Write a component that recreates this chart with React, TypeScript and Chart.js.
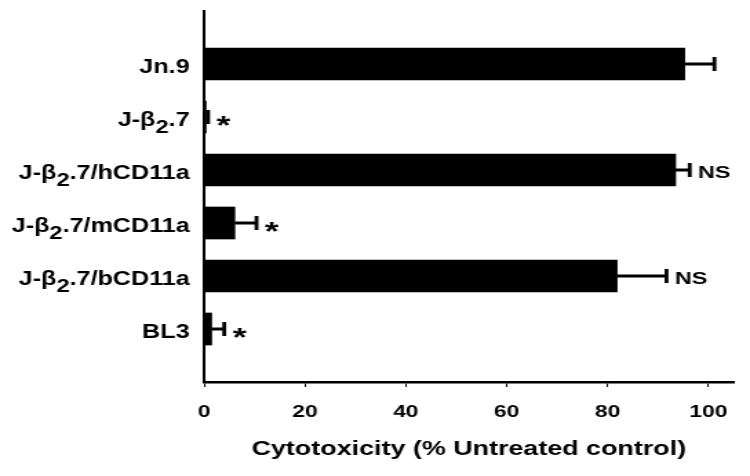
import React, { useEffect, useRef } from 'react';
import { Chart, registerables } from 'chart.js';

Chart.register(...registerables);

// ---- data ----
const CATEGORIES = ['Jn.9', 'J-β₂.7', 'J-β₂.7/hCD11a', 'J-β₂.7/mCD11a', 'J-β₂.7/bCD11a', 'BL3'];
const CYTOTOXICITY = [95.3, 0.4, 93.5, 6.1, 81.9, 1.5];
const ERRORS = [5.9, 0.4, 2.8, 4.3, 9.8, 2.5];
const SIGNIFICANCE = ['', '*', 'NS', '*', 'NS', '*'];
const X_TICKS = [0, 20, 40, 60, 80, 100];
const X_TITLE = 'Cytotoxicity (% Untreated control)';

// ---- layout / style ----
const CANVAS_W = 544;
const CANVAS_H = 476;
const DISPLAY_W = 750;
const FONT = '"Liberation Sans", Arial, Helvetica, sans-serif';

const PADDED_LABELS = ['', ...CATEGORIES, ''];
const PADDED_VALUES = [null, ...CYTOTOXICITY, null];

const annotationsPlugin = {
  id: 'errorBarsAndLabels',
  afterDatasetsDraw(chart: any) {
    const { ctx, scales, chartArea } = chart;
    const xs = scales.x;
    const ys = scales.y;
    ctx.save();
    ctx.strokeStyle = '#000';
    ctx.fillStyle = '#000';
    CYTOTOXICITY.forEach((v, i) => {
      const e = ERRORS[i];
      const cy = ys.getPixelForValue(i + 1);
      const x0 = xs.getPixelForValue(v);
      const x1 = xs.getPixelForValue(v + e);
      if (e > 0) {
        ctx.lineWidth = 3;
        ctx.beginPath();
        ctx.moveTo(x0, cy);
        ctx.lineTo(x1, cy);
        ctx.stroke();
        ctx.lineWidth = 2.8;
        ctx.beginPath();
        ctx.moveTo(x1, cy - 7);
        ctx.lineTo(x1, cy + 7);
        ctx.stroke();
      }
      const mark = SIGNIFICANCE[i];
      ctx.textAlign = 'left';
      ctx.textBaseline = 'alphabetic';
      if (mark === '*') {
        ctx.font = `bold 26px ${FONT}`;
        ctx.fillText(mark, x1 + 6, cy + 17);
      } else if (mark) {
        ctx.font = `bold 17px ${FONT}`;
        ctx.fillText(mark, x1 + 6, cy + 8);
      }
    });

    // category labels with subscript (slightly condensed)
    const right = chartArea.left - 10.5;
    const k = 0.91;
    const mainFont = `bold 20px ${FONT}`;
    const subFont = `bold 19px ${FONT}`;
    ctx.textAlign = 'left';
    ctx.textBaseline = 'alphabetic';
    CATEGORIES.forEach((label, i) => {
      const cy = ys.getPixelForValue(i + 1);
      const base = cy + 9;
      const parts = label.split('₂');
      const segs: { t: string; sub: boolean }[] = [];
      parts.forEach((p, idx) => {
        if (idx > 0) segs.push({ t: '2', sub: true });
        if (p) segs.push({ t: p, sub: false });
      });
      let total = 0;
      segs.forEach((s) => {
        ctx.font = s.sub ? subFont : mainFont;
        total += ctx.measureText(s.t).width;
      });
      ctx.save();
      ctx.translate(right, base);
      ctx.scale(k, 1);
      let xpos = -total;
      segs.forEach((s) => {
        ctx.font = s.sub ? subFont : mainFont;
        ctx.fillText(s.t, xpos, s.sub ? 6.5 : 0);
        xpos += ctx.measureText(s.t).width;
      });
      ctx.restore();
    });
    ctx.restore();
  },
};

export default function App() {
  const canvasRef = useRef<HTMLCanvasElement | null>(null);

  useEffect(() => {
    document.body.style.margin = '0';
    const canvas = canvasRef.current;
    if (!canvas) return;
    const chart = new Chart(canvas, {
      type: 'bar',
      data: {
        labels: PADDED_LABELS,
        datasets: [
          {
            data: PADDED_VALUES as any,
            backgroundColor: '#000',
            borderWidth: 0,
            barThickness: 32,
          },
        ],
      },
      options: {
        indexAxis: 'y',
        responsive: false,
        animation: false,
        devicePixelRatio: 1,
        layout: { padding: { top: 11, right: 9, left: 0, bottom: 0 } },
        plugins: {
          legend: { display: false },
          tooltip: { enabled: false },
        },
        scales: {
          y: {
            type: 'category',
            offset: false,
            grid: { display: false },
            border: { display: true, color: '#000', width: 2 },
            ticks: { display: false },
            afterFit: (s: any) => {
              s.width = 148;
            },
          },
          x: {
            type: 'linear',
            position: 'bottom',
            min: 0,
            max: 105,
            grid: {
              display: true,
              drawOnChartArea: false,
              drawTicks: true,
              tickLength: 5,
              color: '#000',
              lineWidth: 1,
            },
            border: { display: true, color: '#000', width: 2.5 },
            ticks: {
              stepSize: 20,
              includeBounds: false,
              color: '#000',
              padding: 16,
              font: { family: FONT, size: 16.5, weight: 'bold' },
            },
            afterBuildTicks: (s: any) => {
              s.ticks = X_TICKS.map((v) => ({ value: v }));
            },
            title: {
              display: true,
              text: X_TITLE,
              color: '#000',
              font: { family: FONT, size: 19.5, weight: 'bold' },
              padding: { top: 0, bottom: 14.3 },
            },
            afterFit: (s: any) => {
              s.height = 94;
            },
          },
        },
      } as any,
      plugins: [annotationsPlugin],
    });
    return () => {
      chart.destroy();
    };
  }, []);

  return (
    <canvas
      ref={canvasRef}
      width={CANVAS_W}
      height={CANVAS_H}
      style={{ width: `${DISPLAY_W}px`, height: `${CANVAS_H}px`, display: 'block' }}
    />
  );
}
